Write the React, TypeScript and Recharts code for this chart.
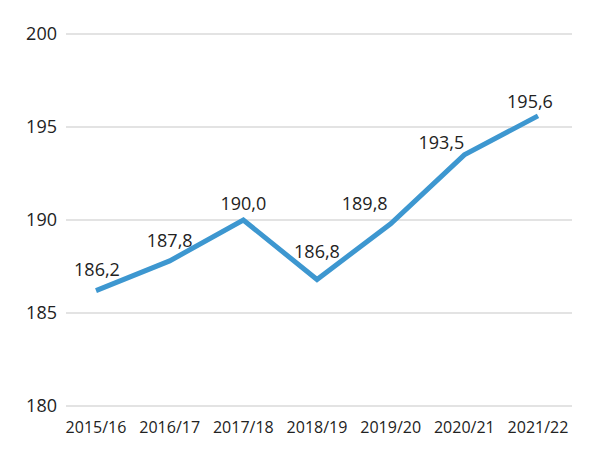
import React from "react";
import { LineChart, Line, XAxis, YAxis, CartesianGrid, LabelList } from "recharts";

const categories = ["2015/16", "2016/17", "2017/18", "2018/19", "2019/20", "2020/21", "2021/22"];
const values = [186.2, 187.8, 190.0, 186.8, 189.8, 193.5, 195.6];
const yTicks = [180, 185, 190, 195, 200];

const data = categories.map((c, i) => ({ year: c, value: values[i] }));

// label placement tweaks (styling)
const labelOffsets: [number, number][] = [
  [1, -22],
  [0, -21],
  [0, -17],
  [0, -29],
  [-26, -21],
  [-23, -13],
  [-8, -15],
];

const FONT = "'Open Sans', sans-serif";

const renderLabel = (props: any) => {
  const { x, y, index, value } = props;
  const [dx, dy] = labelOffsets[index] || [0, -20];
  return (
    <text
      x={x + dx}
      y={y + dy}
      textAnchor="middle"
      dominantBaseline="central"
      fontFamily={FONT}
      fontSize={18}
      fill="#222"
    >
      {Number(value).toFixed(1).replace(".", ",")}
    </text>
  );
};

export default function App() {
  return (
    <div style={{ position: "absolute", left: 0, top: 0, width: 599, height: 460, background: "#fff" }}>
      <LineChart width={599} height={460} data={data} margin={{ top: 34, right: 27, bottom: 0, left: 0 }}>
        <CartesianGrid vertical={false} stroke="#c8c8c8" strokeWidth={1.2} />
        <XAxis
          dataKey="year"
          axisLine={false}
          tickLine={false}
          tickSize={0}
          tickMargin={16}
          height={54}
          interval={0}
          padding={{ left: 30, right: 34 }}
          tick={{ fontFamily: FONT, fontSize: 16, fill: "#222" }}
        />
        <YAxis
          domain={[180, 200]}
          ticks={yTicks}
          axisLine={false}
          tickLine={false}
          tickSize={0}
          tickMargin={9}
          width={66}
          tick={{ fontFamily: FONT, fontSize: 18, fill: "#222" }}
        />
        <Line
          type="linear"
          dataKey="value"
          stroke="#3d97d0"
          strokeWidth={5}
          dot={false}
          activeDot={false}
          isAnimationActive={false}
        >
          <LabelList dataKey="value" content={renderLabel} />
        </Line>
      </LineChart>
    </div>
  );
}
